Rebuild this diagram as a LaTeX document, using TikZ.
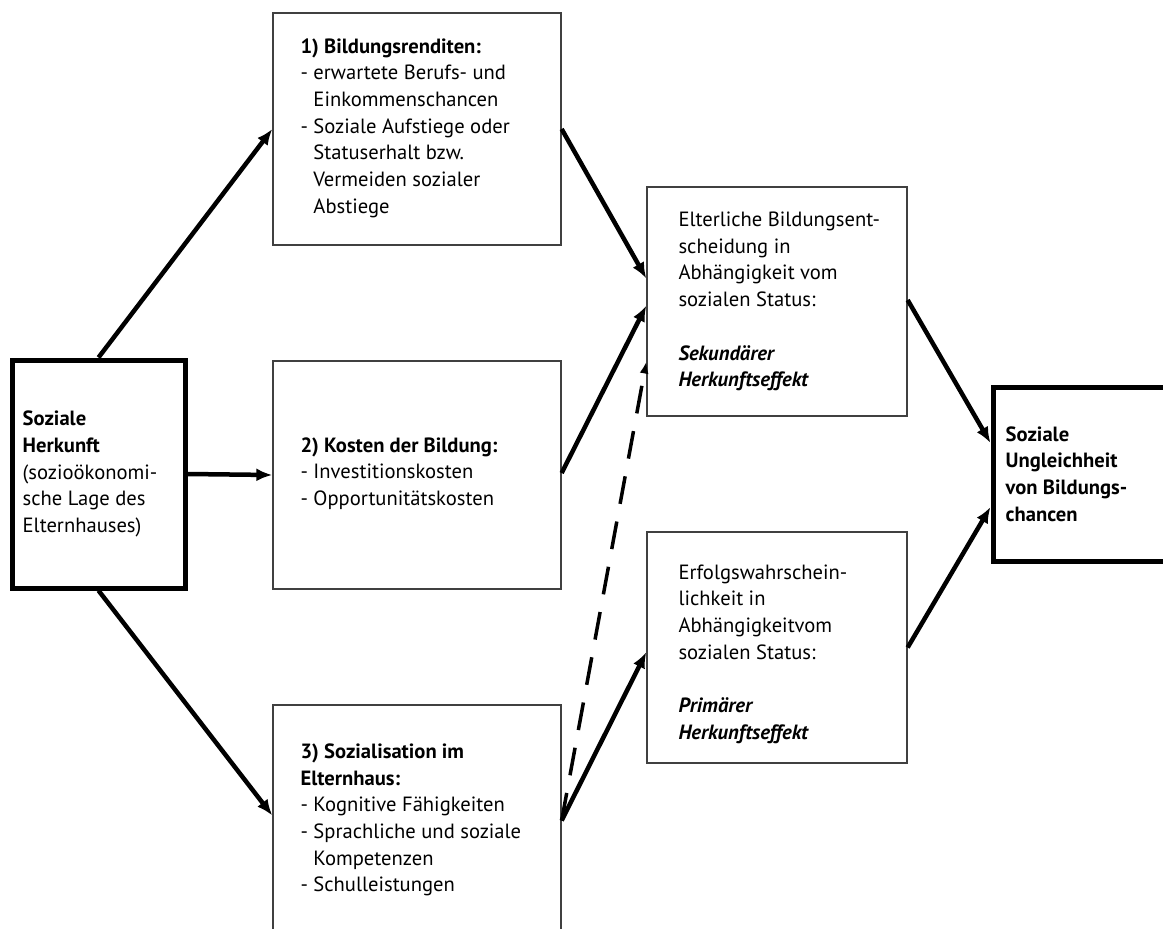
\documentclass[tikz,border=0pt]{standalone}
\usepackage{fontspec}
\setmainfont{PT Sans}
\usetikzlibrary{arrows.meta}
\begin{document}
\begin{tikzpicture}[x=1pt,y=-1pt,
  thinbox/.style={draw=black!75, line width=1.3pt, rectangle, inner sep=0pt},
  thickbox/.style={draw=black, line width=5pt, rectangle, inner sep=0pt},
  txt/.style={anchor=west, align=left, inner sep=0pt, font=\fontsize{20.6}{26.7}\selectfont},
  arr/.style={line width=4.5pt, -{Latex[length=16pt,width=13pt]}},
  darr/.style={line width=3.5pt, dash pattern=on 28pt off 18pt, -{Latex[length=12pt,width=9pt]}}
]
\useasboundingbox (0,0) rectangle (1163,929);
% boxes
\node[thickbox, minimum width=173pt, minimum height=228pt] (herkunft) at (98.5,474) {};
\node[thinbox, minimum width=288pt, minimum height=232pt] (rendite) at (417,129) {};
\node[thinbox, minimum width=288pt, minimum height=228pt] (kosten) at (417,475) {};
\node[thinbox, minimum width=288pt, minimum height=235pt] (sozial) at (417,822.5) {};
\node[thinbox, minimum width=260pt, minimum height=229pt] (eltern) at (777,301.5) {};
\node[thinbox, minimum width=260pt, minimum height=231pt] (erfolg) at (777,647.5) {};
\node[thickbox, minimum width=177pt, minimum height=174pt] (ungleich) at (1081.5,474) {};
% texts
\node[txt, xshift=13pt] (herkunftT) at (herkunft.west) {\textbf{Soziale}\\\textbf{Herkunft}\\(sozioökonomi-\\sche Lage des\\Elternhauses)};
\node[txt, xshift=28pt, yshift=1pt] (renditeT) at (rendite.west) {\textbf{1) Bildungsrenditen:}\\- erwartete Berufs- und\\\hphantom{- }Einkommenschancen\\- Soziale Aufstiege oder\\\hphantom{- }Statuserhalt bzw.\\\hphantom{- }Vermeiden sozialer\\\hphantom{- }Abstiege};
\node[txt, xshift=28pt, yshift=1.5pt] (kostenT) at (kosten.west) {\textbf{2) Kosten der Bildung:}\\- Investitionskosten\\- Opportunitätskosten};
\node[txt, xshift=28pt, yshift=2.5pt] (sozialT) at (sozial.west) {\textbf{3) Sozialisation im}\\\textbf{Elternhaus:}\\- Kognitive Fähigkeiten\\- Sprachliche und soziale\\\hphantom{- }Kompetenzen\\- Schulleistungen};
\node[txt, xshift=32pt] (elternT) at (eltern.west) {Elterliche Bildungsent-\\scheidung in\\Abhängigkeit vom\\sozialen Status:\\[26.7pt]\textbf{\textit{Sekundärer}}\\\textbf{\textit{Herkunftseffekt}}};
\node[txt, xshift=32pt, yshift=-6.5pt] (erfolgT) at (erfolg.west) {Erfolgswahrschein-\\lichkeit in\\Abhängigkeitvom\\sozialen Status:\\[26.7pt]\textbf{\textit{Primärer}}\\\textbf{\textit{Herkunftseffekt}}};
\node[txt, xshift=15pt] (ungleichT) at (ungleich.west) {\textbf{Soziale}\\\textbf{Ungleichheit}\\\textbf{von Bildungs-}\\\textbf{chancen}};
% arrows
\draw[arr] (herkunft.north) -- (rendite.west);
\draw[arr] (herkunft.east) -- (kosten.west);
\draw[arr] (herkunft.south) -- ([yshift=7pt]sozial.west);
\draw[arr] (rendite.east) -- ([yshift=23pt]eltern.west);
\draw[arr] ([yshift=2pt]kosten.east) -- ([yshift=-4pt]eltern.west);
\draw[darr] ([yshift=2pt]sozial.east) -- ([yshift=-60pt]eltern.west);
\draw[arr] ([yshift=2pt]sozial.east) -- ([yshift=-4.5pt]erfolg.west);
\draw[arr] ([yshift=1.5pt]eltern.east) -- ([yshift=31pt]ungleich.west);
\draw[arr] (erfolg.east) -- ([yshift=-33pt]ungleich.west);
\end{tikzpicture}
\end{document}
